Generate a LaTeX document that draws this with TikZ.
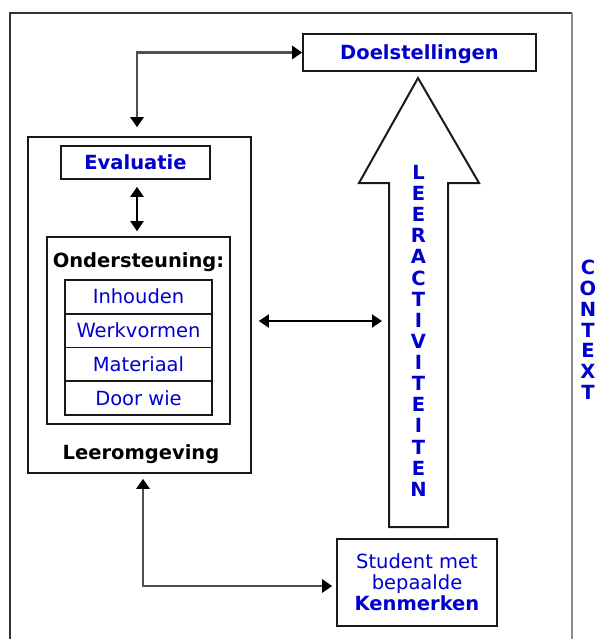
\documentclass[tikz,border=0pt]{standalone}
\usepackage{fontspec}
\setmainfont{DejaVu Sans}
\usetikzlibrary{arrows.meta,calc}
\definecolor{txtblue}{RGB}{0,0,204}
\definecolor{conngray}{RGB}{80,80,80}
\begin{document}
\begin{tikzpicture}[x=1pt,y=-1pt,
  box/.style={draw=black!90, line width=1.6pt, inner sep=0pt, fill=white,
    font=\fontsize{19.5}{21}\selectfont, text height=14.2pt, text depth=0pt},
  bluebold/.style={box, text=txtblue, font=\fontsize{19.5}{21}\selectfont\bfseries},
  bluereg/.style={box, text=txtblue},
  lbl/.style={inner sep=0pt, font=\fontsize{19.5}{21}\selectfont\bfseries},
  column/.style={inner sep=0pt, align=center, text=txtblue,
    font=\fontsize{19.5}{21.13}\selectfont\bfseries},
  tipk/.tip={Triangle[length=10pt,width=13pt,color=black]},
  conn/.style={draw=conngray, line width=2.6pt, arrows={tipk-tipk}},
  dblk/.style={draw=black, line width=2pt, arrows={tipk-tipk}}
]
\useasboundingbox (0,0) rectangle (597,639);
% outer frame
\draw[line width=1.6pt, draw=black!80] (10,650) -- (10,13) -- (572,13);
\draw[line width=1.6pt, draw=black!45] (572,13) -- (572,650);

% Doelstellingen
\node[bluebold, minimum width=233pt, minimum height=37pt] (doel) at (419.5,52.5) {Doelstellingen};

% Leeromgeving container
\node[box, minimum width=223pt, minimum height=336pt] (leer) at (139.5,305) {};
\node[bluebold, minimum width=149pt, minimum height=33pt] (eval) at (135.5,162.5) {Evaluatie};
\node[box, minimum width=183pt, minimum height=187pt] (ond) at (138.5,330.5) {};
\node[lbl, anchor=base] (ondlbl) at (138.5,267) {Ondersteuning:};
\node[bluereg, minimum width=147pt, minimum height=33.75pt] (r1) at (138.5,296.875) {Inhouden};
\node[bluereg, minimum width=147pt, minimum height=33.75pt] (r2) at (138.5,330.625) {Werkvormen};
\node[bluereg, minimum width=147pt, minimum height=33.75pt] (r3) at (138.5,364.375) {Materiaal};
\node[bluereg, minimum width=147pt, minimum height=33.75pt] (r4) at (138.5,398.125) {Door wie};
\node[lbl, anchor=base] (leerlbl) at (141,459) {Leeromgeving};

% big arrow
\draw[line width=2pt, draw=black!90, fill=white] (418,78) -- (479,183) -- (448,183) -- (448,527)
  -- (389,527) -- (389,183) -- (359,183) -- cycle;
\coordinate (shaftW) at (389,321);
\node[column, anchor=north] (act) at (418.5,165) {L\\E\\E\\R\\A\\C\\T\\I\\V\\I\\T\\E\\I\\T\\E\\N};

% Student box
\node[box, minimum width=160pt, minimum height=87pt, text=txtblue, align=center,
  text height=, text depth=] (stud) at (417,582.5) {Student met\\bepaalde\\\textbf{Kenmerken}};

% CONTEXT
\node[column, anchor=north, font=\fontsize{19.5}{20.8}\selectfont\bfseries] (ctx) at (588,260) {C\\O\\N\\T\\E\\X\\T};

% connectors
\draw[conn, shorten <=9pt] ($(leer.north)+(-2.5,0)$) |- (doel.west);
\draw[dblk, shorten <=7pt, shorten >=5pt] ($(eval.south)+(1.5,0)$) -- ($(ond.north)+(-1.5,0)$);
\draw[dblk, shorten <=7pt, shorten >=7pt] ($(leer.east)+(0,16)$) -- (shaftW);
\draw[conn, shorten <=5pt, shorten >=4pt] ($(leer.south)+(3.5,0)$) |- ($(stud.west)+(0,3.5)$);
\end{tikzpicture}
\end{document}
